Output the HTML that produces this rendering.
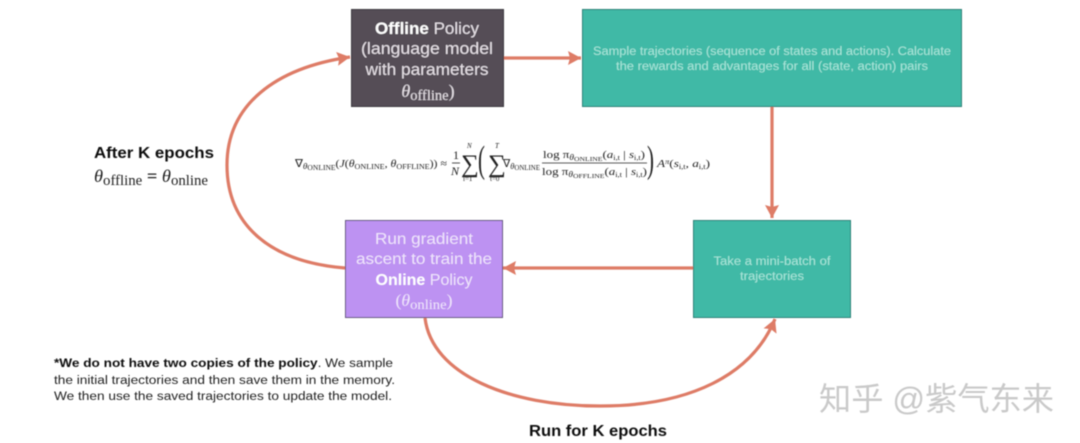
<!DOCTYPE html>
<html><head><meta charset="utf-8">
<style>
html,body{margin:0;padding:0;background:#fff;width:1080px;height:443px;overflow:hidden}
svg{display:block}
text{font-family:"Liberation Sans","Noto Sans CJK SC",sans-serif}
.m{font-family:"Liberation Serif",serif}
</style></head><body>
<svg width="1080" height="443" viewBox="0 0 1080 443" xmlns="http://www.w3.org/2000/svg">
<defs>
<marker id="a" markerUnits="userSpaceOnUse" markerWidth="16" markerHeight="16" refX="13" refY="7" orient="auto"><path d="M0 0L13 7L0 14L2 7Z" fill="#de7b66"/></marker>
<filter id="b" x="-2%" y="-2%" width="104%" height="104%"><feGaussianBlur stdDeviation="0.45"/></filter>
</defs>
<g filter="url(#b)">
<rect x="351.5" y="9.5" width="152" height="97" fill="#544e56" stroke="#3d3a40"/>
<rect x="582.5" y="9.5" width="379" height="97" fill="#3fb9a6" stroke="#2f7f76"/>
<rect x="693.5" y="220.5" width="157" height="97" fill="#3fb9a6" stroke="#2f7f76"/>
<rect x="345.5" y="220.5" width="157" height="97" fill="#bd92f2" stroke="#5f5478"/>
<g fill="none" stroke="#de7b66" stroke-width="3.2">
<path d="M504 58H581" marker-end="url(#a)"/>
<path d="M772 107V218" marker-end="url(#a)"/>
<path d="M693 268H503" marker-end="url(#a)"/>
<path d="M345 268C270 262 227 225 227 165C227 105 275 68 350 57" marker-end="url(#a)"/>
<path d="M425 318C432 375 510 406 600 406C690 406 752 375 775 319" marker-end="url(#a)"/>
</g>
<g fill="#e6e0e6" font-size="17" text-anchor="middle">
<text x="427" y="34"><tspan font-weight="700" fill="#fff">Offline</tspan> Policy</text>
<text x="427" y="54" textLength="132" lengthAdjust="spacingAndGlyphs">(language model</text>
<text x="427" y="75" textLength="123" lengthAdjust="spacingAndGlyphs">with parameters</text>
<text x="428" y="97" class="m" font-size="18"><tspan font-style="italic">θ</tspan><tspan font-size="14.5" dy="3">offline</tspan><tspan dy="-3">)</tspan></text>
</g>
<g fill="#a9e6da" font-size="11.5" text-anchor="middle">
<text x="772" y="55" textLength="358" lengthAdjust="spacingAndGlyphs">Sample trajectories (sequence of states and actions). Calculate</text>
<text x="772" y="70" textLength="312" lengthAdjust="spacingAndGlyphs">the rewards and advantages for all (state, action) pairs</text>
<text x="772" y="265" textLength="117" lengthAdjust="spacingAndGlyphs">Take a mini-batch of</text>
<text x="772" y="280" textLength="64" lengthAdjust="spacingAndGlyphs">trajectories</text>
</g>
<g fill="#efe4fb" font-size="16" text-anchor="middle">
<text x="424" y="244" textLength="98" lengthAdjust="spacingAndGlyphs">Run gradient</text>
<text x="424" y="264" textLength="136" lengthAdjust="spacingAndGlyphs">ascent to train the</text>
<text x="424" y="285"><tspan font-weight="700" fill="#fff">Online</tspan> Policy</text>
<text x="424" y="306" class="m" font-size="17" textLength="57" lengthAdjust="spacingAndGlyphs">(<tspan font-style="italic">θ</tspan><tspan font-size="14" dy="3">online</tspan><tspan dy="-3">)</tspan></text>
</g>
<text x="94" y="158" font-size="15.5" font-weight="700" fill="#111" textLength="120" lengthAdjust="spacingAndGlyphs">After K epochs</text>
<text x="94" y="182" class="m" font-size="18" fill="#222" textLength="114" lengthAdjust="spacingAndGlyphs"><tspan font-style="italic">θ</tspan><tspan font-size="14.5" dy="3">offline</tspan><tspan dy="-3" font-weight="700"> = </tspan><tspan font-style="italic">θ</tspan><tspan font-size="14.5" dy="3">online</tspan></text>
<g class="m" fill="#222" font-size="11">
<text x="295" y="167" class="m" textLength="152" lengthAdjust="spacingAndGlyphs">∇<tspan font-size="8.5" dy="2" font-style="italic">θ</tspan><tspan font-size="7" dy="1">ONLINE</tspan><tspan dy="-3">(</tspan><tspan font-style="italic">J</tspan>(<tspan font-style="italic">θ</tspan><tspan font-size="7.5" dy="2">ONLINE</tspan><tspan dy="-2">, </tspan><tspan font-style="italic">θ</tspan><tspan font-size="7.5" dy="2">OFFLINE</tspan><tspan dy="-2">)) ≈</tspan></text>
<text x="453" y="159" class="m" font-size="12">1</text><path d="M452 163H460" stroke="#222" stroke-width=".8"/><text x="451" y="175" class="m" font-size="12" font-style="italic">N</text>
<text x="461" y="172" class="m" font-size="25">∑</text>
<text x="467" y="148" class="m" font-size="7" font-style="italic">N</text>
<text x="463" y="181" class="m" font-size="7">i=1</text>
<text x="478" y="172" class="m" font-size="38" transform="translate(478 0) scale(.55 1) translate(-478 0)">(</text>
<text x="488" y="172" class="m" font-size="25">∑</text>
<text x="495" y="148" class="m" font-size="7" font-style="italic">T</text>
<text x="490" y="181" class="m" font-size="7">t=0</text>
<text x="503" y="167" class="m" textLength="37" lengthAdjust="spacingAndGlyphs">∇<tspan font-size="8.5" dy="2" font-style="italic">θ</tspan><tspan font-size="7" dy="1">ONLINE</tspan></text>
<text x="543" y="158" class="m" font-size="11" textLength="102" lengthAdjust="spacingAndGlyphs">log π<tspan font-size="8" dy="2" font-style="italic">θ</tspan><tspan font-size="6.5" dy="1">ONLINE</tspan><tspan dy="-3">(</tspan><tspan font-style="italic">a</tspan><tspan font-size="7" dy="2">i,t</tspan><tspan dy="-2"> | </tspan><tspan font-style="italic">s</tspan><tspan font-size="7" dy="2">i,t</tspan><tspan dy="-2">)</tspan></text>
<path d="M542 163H647" stroke="#222" stroke-width=".8"/>
<text x="542" y="175" class="m" font-size="11" textLength="105" lengthAdjust="spacingAndGlyphs">log π<tspan font-size="8" dy="2" font-style="italic">θ</tspan><tspan font-size="6.5" dy="1">OFFLINE</tspan><tspan dy="-3">(</tspan><tspan font-style="italic">a</tspan><tspan font-size="7" dy="2">i,t</tspan><tspan dy="-2"> | </tspan><tspan font-style="italic">s</tspan><tspan font-size="7" dy="2">i,t</tspan><tspan dy="-2">)</tspan></text>
<text x="647" y="172" class="m" font-size="38" transform="translate(647 0) scale(.55 1) translate(-647 0)">)</text>
<text x="657" y="167" class="m" font-size="11" textLength="53" lengthAdjust="spacingAndGlyphs"><tspan font-style="italic">A</tspan><tspan font-size="7" dy="-3" font-style="italic">π</tspan><tspan dy="3">(</tspan><tspan font-style="italic">s</tspan><tspan font-size="7" dy="2">i,t</tspan><tspan dy="-2">, </tspan><tspan font-style="italic">a</tspan><tspan font-size="7" dy="2">i,t</tspan><tspan dy="-2">)</tspan></text>
</g>
<g font-size="11.5" fill="#222">
<text x="54" y="367" textLength="339" lengthAdjust="spacingAndGlyphs"><tspan font-weight="700" fill="#111">*We do not have two copies of the policy</tspan>. We sample</text>
<text x="54" y="384" textLength="341" lengthAdjust="spacingAndGlyphs">the initial trajectories and then save them in the memory.</text>
<text x="54" y="400" textLength="338" lengthAdjust="spacingAndGlyphs">We then use the saved trajectories to update the model.</text>
</g>
<text x="529" y="436" font-size="15.5" font-weight="700" fill="#111" textLength="138" lengthAdjust="spacingAndGlyphs">Run for K epochs</text>
<text x="819" y="410" font-size="32" fill="#c9c9c9" textLength="235" lengthAdjust="spacingAndGlyphs">知乎 @紫气东来</text>
</g>
</svg>
</body></html>
